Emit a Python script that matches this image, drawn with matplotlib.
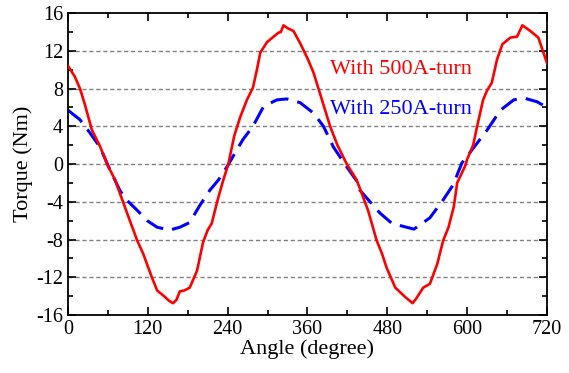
import matplotlib.pyplot as plt
from matplotlib.ticker import MultipleLocator

# torque curves
red_x = [0, 10, 18, 25, 36, 48, 60, 71, 78, 93, 104, 113, 126, 134, 146, 152, 158, 163,
         168, 175, 183, 194, 203, 210, 216, 225, 233, 241, 250, 259, 269, 278, 284, 289,
         299, 309, 316, 320, 324, 330, 339, 349, 360, 369, 380, 394, 405, 419, 434, 451,
         464, 472, 479, 492, 507, 518, 524, 534, 544, 555, 564, 572, 580, 585, 597, 600,
         609, 615, 624, 630, 637, 645, 653, 665, 675, 683, 695, 707, 720]
red_y = [10.4, 9.3, 8.0, 6.4, 3.6, 1.9, -0.2, -1.7, -3.1, -6.0, -8.1, -9.5, -12.0, -13.4,
         -14.1, -14.5, -14.75, -14.4, -13.5, -13.4, -13.1, -11.3, -8.3, -7.0, -6.3, -3.8,
         -1.8, 0.0, 3.0, 5.0, 6.8, 8.1, 10.0, 11.8, 12.9, 13.5, 13.9, 14.0, 14.7, 14.4,
         14.1, 12.8, 11.2, 9.7, 7.2, 4.0, 2.0, 0.0, -1.7, -4.9, -8.1, -9.5, -11.0, -13.1,
         -14.1, -14.75, -14.2, -13.1, -12.7, -10.6, -8.1, -6.7, -4.5, -2.0, -0.2, 0.5,
         2.0, 4.0, 6.8, 7.8, 8.6, 11.1, 12.7, 13.4, 13.5, 14.7, 14.1, 13.4, 10.7]

blue_x = [0, 18, 33, 48, 63, 78, 88, 104, 119, 134, 153, 168, 183, 198, 213, 226, 239,
          248, 263, 278, 294, 314, 329, 349, 369, 384, 399, 419, 436, 439, 454, 469, 487,
          520, 544, 564, 579, 592, 604, 630, 650, 670, 685, 705, 720]
blue_y = [5.7, 4.7, 3.3, 1.8, -0.6, -2.8, -3.8, -4.9, -6.0, -6.7, -7.0, -6.7, -6.2, -4.4,
          -2.8, -1.7, -0.3, 0.8, 2.6, 4.0, 6.1, 6.8, 6.9, 6.5, 5.4, 4.0, 1.8, -0.3, -2.0,
          -2.8, -4.0, -5.2, -6.3, -6.9, -5.7, -3.8, -2.2, 0.1, 1.2, 3.6, 5.7, 6.8, 7.0,
          6.6, 6.0]

plt.rcParams['font.family'] = ['Liberation Serif', 'DejaVu Serif']
plt.rcParams['axes.unicode_minus'] = False

fig = plt.figure(figsize=(5.69, 3.73), dpi=100)
ax = fig.add_axes([0.1195, 0.1555, 0.8418, 0.8095])

for yv in range(-12, 16, 4):
    ax.axhline(yv, color='#808080', lw=1, ls=(0, (3, 2)), zorder=1)

ax.plot(red_x, red_y, color='#ff0000', lw=1.9, zorder=3)
ax.plot(blue_x, blue_y, color='#0000ff', lw=2.2, dashes=(6, 3), zorder=2)

ax.text(394, 10.0, 'With 500A-turn', color='#ff0000', fontsize=16, va='center')
ax.text(394, 5.8, 'With 250A-turn', color='#0000ff', fontsize=16, va='center')

ax.set_xlim(0, 720)
ax.set_ylim(-16, 16)
ax.xaxis.set_major_locator(MultipleLocator(120))
ax.xaxis.set_minor_locator(MultipleLocator(60))
ax.yaxis.set_major_locator(MultipleLocator(4))
ax.yaxis.set_minor_locator(MultipleLocator(2))
ax.tick_params(which='both', direction='in', top=True, right=True, labelsize=14.5, width=1.2)
ax.tick_params(which='major', length=6)
ax.tick_params(which='minor', length=3.5)
for s in ax.spines.values():
    s.set_linewidth(1.3)

ax.set_xlabel('Angle (degree)', fontsize=16, labelpad=0)
ax.set_ylabel('Torque (Nm)', fontsize=16, labelpad=2)

fig.savefig('out.png', dpi=100)
